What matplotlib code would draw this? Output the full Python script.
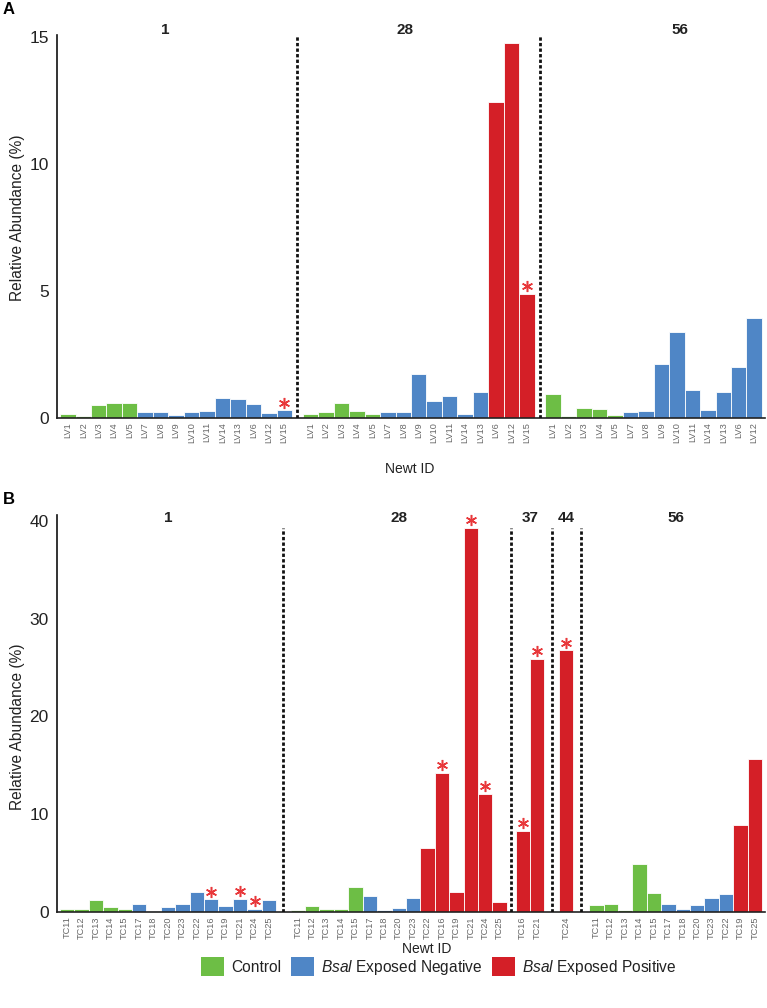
import matplotlib
matplotlib.use("Agg")
import matplotlib.pyplot as plt
import matplotlib.transforms as mtransforms
import numpy as np
from matplotlib.patches import Patch

plt.rcParams['font.family'] = ['Liberation Sans', 'DejaVu Sans']
plt.rcParams['mathtext.fontset'] = 'custom'
plt.rcParams['mathtext.it'] = 'Liberation Sans:italic'
plt.rcParams['mathtext.rm'] = 'Liberation Sans'

# ---------------- DATA ----------------
# Panel A (LV newts)
A_days = ["1", "28", "56"]
A_d1_ids = ["LV1", "LV2", "LV3", "LV4", "LV5", "LV7", "LV8", "LV9", "LV10", "LV11", "LV14", "LV13", "LV6", "LV12", "LV15"]
A_d1_vals = [0.14, 0.07, 0.50, 0.60, 0.60, 0.22, 0.24, 0.13, 0.24, 0.29, 0.80, 0.75, 0.54, 0.21, 0.30]
A_d1_grp = ["C", "C", "C", "C", "C", "N", "N", "N", "N", "N", "N", "N", "N", "N", "N"]
A_d1_star = ["LV15"]

A_d28_ids = ["LV1", "LV2", "LV3", "LV4", "LV5", "LV7", "LV8", "LV9", "LV10", "LV11", "LV14", "LV13", "LV6", "LV12", "LV15"]
A_d28_vals = [0.17, 0.24, 0.58, 0.28, 0.16, 0.24, 0.22, 1.72, 0.67, 0.88, 0.17, 1.01, 12.46, 14.75, 4.88]
A_d28_grp = ["C", "C", "C", "C", "C", "N", "N", "N", "N", "N", "N", "N", "P", "P", "P"]
A_d28_star = ["LV15"]

A_d56_ids = ["LV1", "LV2", "LV3", "LV4", "LV5", "LV7", "LV8", "LV9", "LV10", "LV11", "LV14", "LV13", "LV6", "LV12"]
A_d56_vals = [0.95, 0.09, 0.39, 0.36, 0.13, 0.24, 0.28, 2.12, 3.39, 1.09, 0.30, 1.04, 1.99, 3.92]
A_d56_grp = ["C", "C", "C", "C", "C", "N", "N", "N", "N", "N", "N", "N", "N", "N"]
A_d56_star = []

# Panel B (TC newts)
B_days = ["1", "28", "37", "44", "56"]
B_d1_ids = ["TC11", "TC12", "TC13", "TC14", "TC15", "TC17", "TC18", "TC20", "TC23", "TC22", "TC16", "TC19", "TC21", "TC24", "TC25"]
B_d1_vals = [0.31, 0.34, 1.26, 0.55, 0.27, 0.78, 0.10, 0.48, 0.78, 2.08, 1.30, 0.61, 1.37, 0.34, 1.19]
B_d1_grp = ["C", "C", "C", "C", "C", "N", "N", "N", "N", "N", "N", "N", "N", "N", "N"]
B_d1_star = ["TC16", "TC21", "TC24"]

B_d28_ids = ["TC11", "TC12", "TC13", "TC14", "TC15", "TC17", "TC18", "TC20", "TC23", "TC22", "TC16", "TC19", "TC21", "TC24", "TC25"]
B_d28_vals = [0.20, 0.61, 0.34, 0.31, 2.56, 1.67, 0.20, 0.44, 1.40, 6.59, 14.24, 2.05, 39.3, 12.07, 0.99]
B_d28_grp = ["C", "C", "C", "C", "C", "N", "N", "N", "N", "P", "P", "P", "P", "P", "P"]
B_d28_star = ["TC16", "TC21", "TC24"]

B_d37_ids = ["TC16", "TC21"]
B_d37_vals = [8.31, 25.9]
B_d37_grp = ["P", "P"]
B_d37_star = ["TC16", "TC21"]

B_d44_ids = ["TC24"]
B_d44_vals = [26.75]
B_d44_grp = ["P"]
B_d44_star = ["TC24"]

B_d56_ids = ["TC11", "TC12", "TC13", "TC14", "TC15", "TC17", "TC18", "TC20", "TC23", "TC22", "TC19", "TC25"]
B_d56_vals = [0.68, 0.78, 0.20, 4.91, 1.95, 0.82, 0.34, 0.72, 1.40, 1.88, 8.87, 15.68]
B_d56_grp = ["C", "C", "C", "C", "C", "N", "N", "N", "N", "N", "P", "P"]
B_d56_star = []

legend_labels = ["Control", r"$\it{Bsal}$ Exposed Negative", r"$\it{Bsal}$ Exposed Positive"]

# ---------------- STYLE ----------------
COLORS = {"C": "#6DBE45", "N": "#4F86C6", "P": "#D41F27"}
STAR_COLOR = "#E8383B"

fig = plt.figure(figsize=(7.67, 10.08), dpi=100)
W, H = 767, 1008


def px_axes(left, right, top, bottom):
    return fig.add_axes([left / W, 1 - bottom / H, (right - left) / W, (bottom - top) / H])


def draw_panel(ax, days, groups, gaps, ymax, yticks, dash_top, day_label_y, label_offsets):
    start = 0.0
    centers_all, labels_all = [], []
    dash_x = []
    star_trans = mtransforms.offset_copy(ax.transData, fig=fig, x=0, y=5.5, units="points")
    for i, (ids, vals, grp, stars) in enumerate(groups):
        x = start + np.arange(len(ids)) + 0.5
        ax.bar(x, vals, width=1.0, color=[COLORS[g] for g in grp],
               edgecolor="white", linewidth=0.6, zorder=2)
        sx = [xi for xi, lab in zip(x, ids) if lab in stars]
        sy = [v for v, lab in zip(vals, ids) if lab in stars]
        if sx:
            ax.plot(sx, sy, linestyle="none", marker=(6, 2, 0), markersize=8,
                    markeredgewidth=1.1, color=STAR_COLOR, transform=star_trans,
                    zorder=4, clip_on=False)
        centers_all.extend(x)
        labels_all.extend(ids)
        ax.text(start + len(ids) / 2 + label_offsets[i], day_label_y, days[i],
                transform=ax.get_xaxis_transform(), ha="center", va="center",
                fontsize=11, fontweight="bold", color="#222222")
        end = start + len(ids)
        if i < len(gaps):
            dash_x.append(end + gaps[i] / 2)
            start = end + gaps[i]
        else:
            start = end
    for dx in dash_x:
        ax.plot([dx, dx], [0, dash_top], color="#111111", lw=2.0,
                dashes=(1.2, 0.8), zorder=3, dash_capstyle="butt")
    ax.set_xlim(-0.2, start + 0.2)
    ax.set_ylim(0, ymax)
    ax.set_xticks(centers_all)
    ax.set_xticklabels(labels_all, rotation=90, fontsize=6.6, color="#666666")
    ax.set_yticks(yticks)
    ax.set_yticklabels([str(t) for t in yticks], fontsize=12.5, color="#222222")
    ax.tick_params(axis="both", length=0)
    ax.tick_params(axis="x", pad=3)
    ax.tick_params(axis="y", pad=6)
    for s in ["top", "right"]:
        ax.spines[s].set_visible(False)
    ax.spines["left"].set_linewidth(1.2)
    ax.spines["bottom"].set_linewidth(1.2)
    ax.spines["left"].set_color("#111111")
    ax.spines["bottom"].set_color("#222222")
    ax.set_ylabel("Relative Abundance (%)", fontsize=11.2, color="#222222")


# Panel A
axA = px_axes(57, 765, 34.5, 418)
draw_panel(axA, A_days,
           [(A_d1_ids, A_d1_vals, A_d1_grp, A_d1_star),
            (A_d28_ids, A_d28_vals, A_d28_grp, A_d28_star),
            (A_d56_ids, A_d56_vals, A_d56_grp, A_d56_star)],
           gaps=[0.7, 0.7], ymax=15.1, yticks=[0, 5, 10, 15], dash_top=15.05,
           day_label_y=1.012, label_offsets=[-0.7, -0.9, 1.7])
axA.yaxis.set_label_coords(-0.045, 0.523)
axA.set_xlabel("Newt ID", fontsize=10, color="#222222")
axA.xaxis.set_label_coords((410 - 57) / 708, -(462 - 418) / 383.5)

# Panel B
axB = px_axes(57, 765, 515, 912)
draw_panel(axB, B_days,
           [(B_d1_ids, B_d1_vals, B_d1_grp, B_d1_star),
            (B_d28_ids, B_d28_vals, B_d28_grp, B_d28_star),
            (B_d37_ids, B_d37_vals, B_d37_grp, B_d37_star),
            (B_d44_ids, B_d44_vals, B_d44_grp, B_d44_star),
            (B_d56_ids, B_d56_vals, B_d56_grp, B_d56_star)],
           gaps=[1.0, 0.6, 1.0, 1.1], ymax=40.6, yticks=[0, 10, 20, 30, 40], dash_top=39.3,
           day_label_y=0.992, label_offsets=[0, 0, 0, 0, 0])
axB.yaxis.set_label_coords(-0.045, 0.466)
axB.set_xlabel("Newt ID", fontsize=10, color="#222222")
axB.xaxis.set_label_coords((427 - 57) / 708, -(942 - 912) / 397)

# Panel letters
fig.text(3 / W, 1 - 10 / H, "A", fontsize=12, fontweight="bold", ha="left", va="center")
fig.text(3 / W, 1 - 500 / H, "B", fontsize=12, fontweight="bold", ha="left", va="center")

# Legend
handles = [Patch(facecolor=COLORS[k], edgecolor="none") for k in ["C", "N", "P"]]
fig.legend(handles, legend_labels, loc="center", bbox_to_anchor=(439 / W, 1 - 967 / H),
           ncol=3, frameon=False, fontsize=11.2, handlelength=1.45, handleheight=1.5,
           handletextpad=0.45, columnspacing=0.65, labelcolor="#222222")

fig.savefig("out.png", dpi=100)
